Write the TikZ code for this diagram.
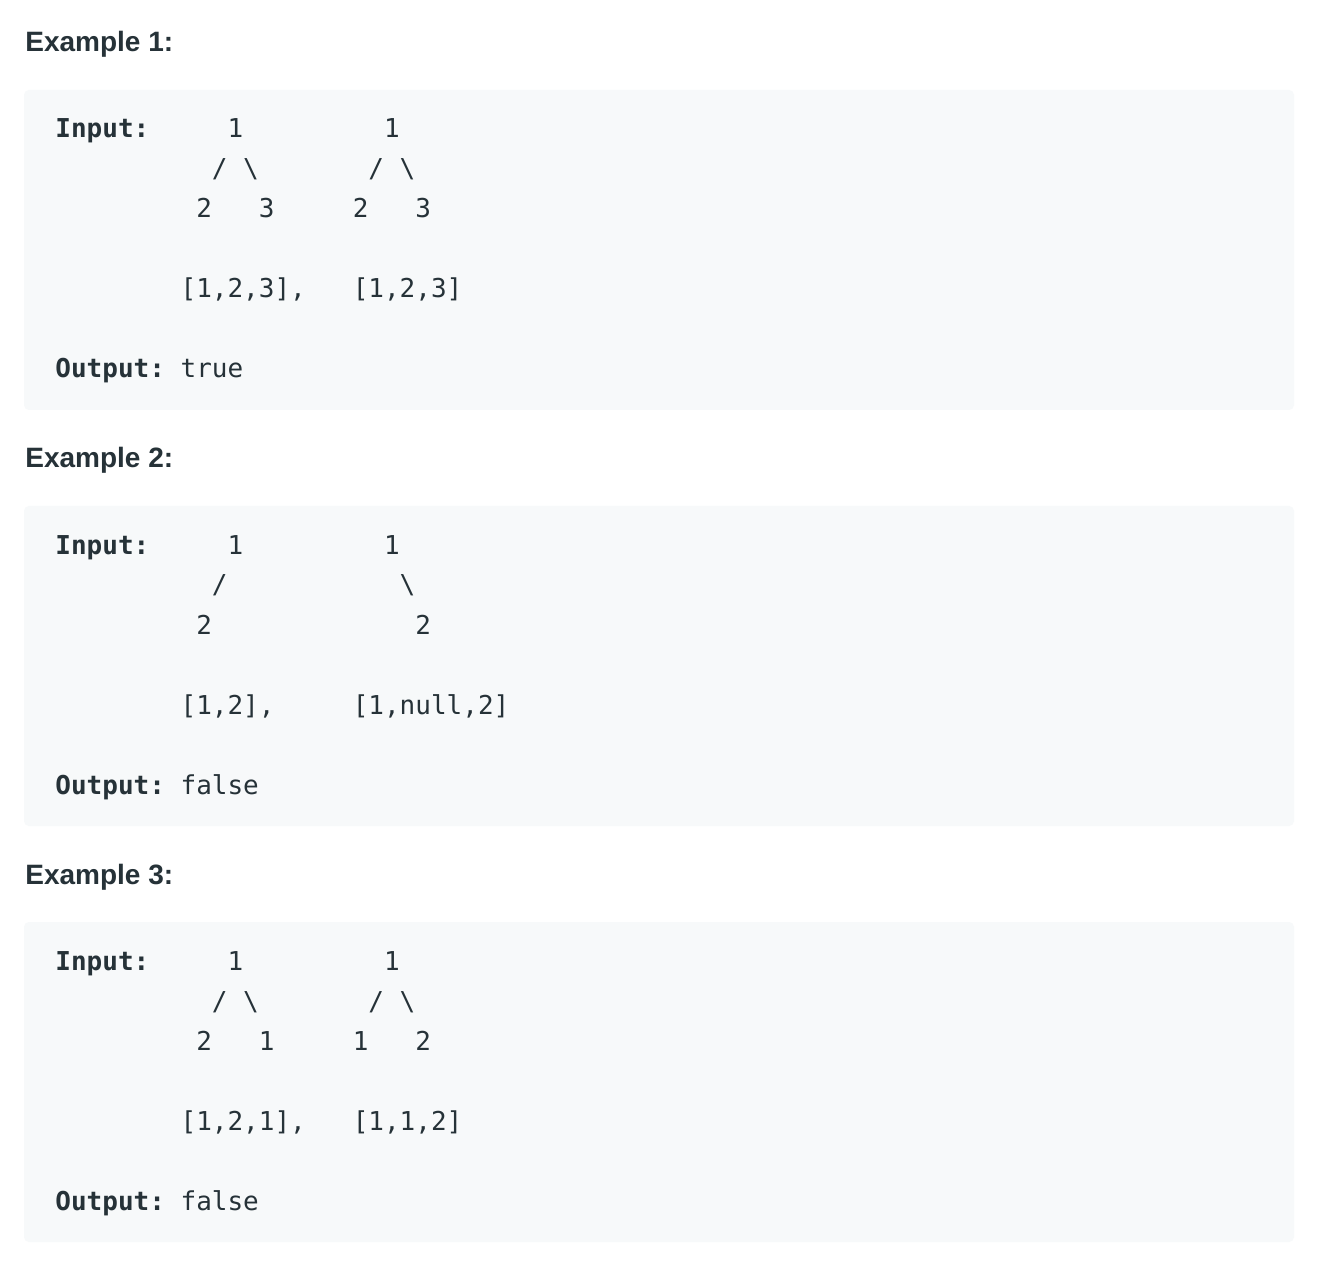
\documentclass[tikz,border=0pt]{standalone}
\usepackage{fontspec}
\setmainfont{Liberation Sans}
\setmonofont{DejaVu Sans Mono}
\definecolor{codebg}{HTML}{F7F9FA}
\definecolor{inktext}{HTML}{263238}

\begin{document}
\begin{tikzpicture}[
    x=0.5pt, y=-0.5pt,
    heading/.style={anchor=base west, inner sep=0pt, text=inktext, font=\fontsize{14}{17}\selectfont\bfseries},
    codeline/.style={anchor=base west, inner sep=0pt, text=inktext, font=\fontsize{13}{20}\ttfamily},
    codebox/.style={fill=codebg, rounded corners=2.5pt}
]
    \useasboundingbox[fill=white] (0,0) rectangle (1322,1272);

    % Example 1
    \node[heading] (head1) at (25,52) {Example 1:};
    \fill[codebox] (24,90) rectangle (1294,410);
    \node[codeline] (in1) at (55,138) {\textbf{Input:}~~~~~1~~~~~~~~~1};
    \node[codeline] (br1) at (211.5,178) {/~\textbackslash~~~~~~~/~\textbackslash};
    \node[codeline] (ch1) at (195.9,218) {2~~~3~~~~~2~~~3};
    \node[codeline] (arr1) at (180.2,298) {[1,2,3],~~~[1,2,3]};
    \node[codeline] (out1) at (55,378) {\textbf{Output:}~true};

    % Example 2
    \node[heading] (head2) at (25,468) {Example 2:};
    \fill[codebox] (24,506) rectangle (1294,826);
    \node[codeline] (in2) at (55,554) {\textbf{Input:}~~~~~1~~~~~~~~~1};
    \node[codeline] (br2) at (211.5,594) {/~~~~~~~~~~~\textbackslash};
    \node[codeline] (ch2) at (195.9,634) {2~~~~~~~~~~~~~2};
    \node[codeline] (arr2) at (180.2,714) {[1,2],~~~~~[1,null,2]};
    \node[codeline] (out2) at (55,794) {\textbf{Output:}~false};

    % Example 3
    \node[heading] (head3) at (25,884) {Example 3:};
    \fill[codebox] (24,922) rectangle (1294,1242);
    \node[codeline] (in3) at (55,970) {\textbf{Input:}~~~~~1~~~~~~~~~1};
    \node[codeline] (br3) at (211.5,1010) {/~\textbackslash~~~~~~~/~\textbackslash};
    \node[codeline] (ch3) at (195.9,1050) {2~~~1~~~~~1~~~2};
    \node[codeline] (arr3) at (180.2,1130) {[1,2,1],~~~[1,1,2]};
    \node[codeline] (out3) at (55,1210) {\textbf{Output:}~false};
\end{tikzpicture}
\end{document}
